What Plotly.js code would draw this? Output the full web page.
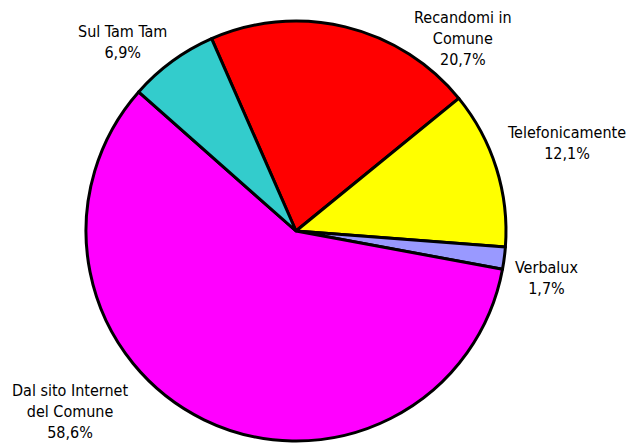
<!DOCTYPE html>
<html><head><meta charset="utf-8">
<script src="https://cdn.plot.ly/plotly-3.0.1.min.js"></script>
<style>html,body{margin:0;padding:0;background:#fff;}#chart{width:629px;height:443px;}</style>
</head><body><div id="chart"></div>
<script>
const categories = ["Recandomi in Comune", "Telefonicamente", "Verbalux", "Dal sito Internet del Comune", "Sul Tam Tam"];
const labelLines = ["Recandomi in<br>Comune", "Telefonicamente", "Verbalux", "Dal sito Internet<br>del Comune", "Sul Tam Tam"];
const values = [20.7, 12.1, 1.7, 58.6, 6.9];
const colors = ["#FF0000", "#FFFF00", "#9999FF", "#FF00FF", "#33CCCC"];
const labelPos = [[463, 38], [566, 143], [546, 278], [70, 411], [122, 42]];

const W = 629, H = 443;
const total = values.reduce((a, b) => a + b, 0);
const fmt = v => (v / total * 100).toFixed(1).replace('.', ',') + '%';
const font = {family: "DejaVu Sans Condensed, DejaVu Sans, sans-serif", size: 16, color: "#000"};

const annotations = categories.map((c, i) => ({
  xref: 'paper', yref: 'paper',
  x: labelPos[i][0] / W, y: 1 - labelPos[i][1] / H,
  xanchor: 'center', yanchor: 'middle',
  text: labelLines[i] + '<br>' + fmt(values[i]),
  showarrow: false, font: font, align: 'center'
}));

Plotly.newPlot('chart', [{
  type: 'pie',
  labels: categories,
  values: values,
  sort: false,
  direction: 'clockwise',
  rotation: -23.7,
  marker: {colors: colors, line: {color: '#000', width: 3}},
  textinfo: 'none',
  hoverinfo: 'label+percent',
  domain: {x: [86 / W, 506 / W], y: [1 - 441 / H, 1 - 21 / H]}
}], {
  width: W, height: H,
  margin: {l: 0, r: 0, t: 0, b: 0},
  showlegend: false,
  paper_bgcolor: '#fff',
  annotations: annotations
}, {staticPlot: true});
</script></body></html>
